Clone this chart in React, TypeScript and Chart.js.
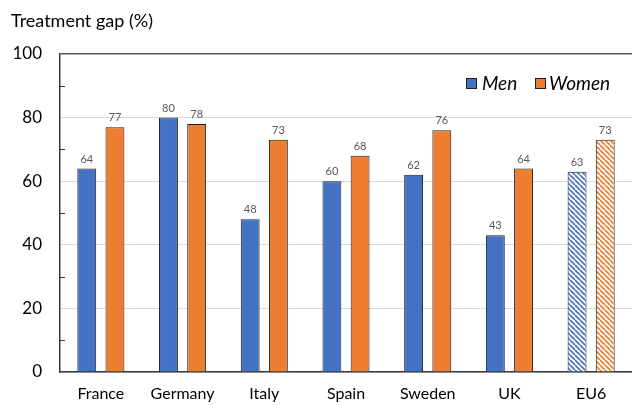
import React, { useEffect, useRef } from "react";
import { Chart, registerables } from "chart.js";

Chart.register(...registerables);

const categories = ["France", "Germany", "Italy", "Spain", "Sweden", "UK", "EU6"];
const menValues = [64, 80, 48, 60, 62, 43, 63];
const womenValues = [77, 78, 73, 68, 76, 64, 73];
const seriesNames = ["Men", "Women"];
const minorTickValues = [10, 30, 50, 70, 90];
const titleText = "Treatment gap (%)";
const hatchedCategory = "EU6";

const BLUE = "#4472C4";
const ORANGE = "#ED7D31";
const BORDER = "#1e1e1e";
const AXIS = "#3a3a3a";
const FONT = "Lato, 'Liberation Sans', sans-serif";

function makeHatch(color: string): CanvasPattern | string {
  const s = 5;
  const c = document.createElement("canvas");
  c.width = s;
  c.height = s;
  const ctx = c.getContext("2d");
  if (!ctx) return color;
  ctx.fillStyle = "#ffffff";
  ctx.fillRect(0, 0, s, s);
  ctx.strokeStyle = color;
  ctx.lineWidth = 1.7;
  for (const k of [-s, 0, s]) {
    ctx.beginPath();
    ctx.moveTo(k, 0);
    ctx.lineTo(k + s, s);
    ctx.stroke();
  }
  const p = ctx.createPattern(c, "repeat");
  return p || color;
}

export default function App() {
  const ref = useRef<HTMLCanvasElement | null>(null);

  useEffect(() => {
    if (!ref.current) return;
    const menHatch = makeHatch(BLUE);
    const womenHatch = makeHatch(ORANGE);

    const extras = {
      id: "extras",
      afterDraw(chart: any) {
        const ctx = chart.ctx as CanvasRenderingContext2D;
        const area = chart.chartArea;
        const y = chart.scales.y;
        ctx.save();
        // title
        ctx.fillStyle = "#000";
        ctx.font = `18px ${FONT}`;
        ctx.textAlign = "left";
        ctx.textBaseline = "middle";
        ctx.fillText(titleText, 11, 21);
        // minor ticks
        ctx.strokeStyle = AXIS;
        ctx.lineWidth = 1;
        for (const v of minorTickValues) {
          const py = Math.round(y.getPixelForValue(v)) + 0.5;
          ctx.beginPath();
          ctx.moveTo(area.left, py);
          ctx.lineTo(area.left + 5, py);
          ctx.stroke();
        }
        // legend
        const items = [
          { label: seriesNames[0], color: BLUE, box: 466, text: 482 },
          { label: seriesNames[1], color: ORANGE, box: 535, text: 549 },
        ];
        ctx.font = `italic 19px ${FONT}`;
        ctx.textBaseline = "middle";
        for (const it of items) {
          ctx.fillStyle = it.color;
          ctx.fillRect(it.box, 78, 11, 11);
          ctx.strokeStyle = BORDER;
          ctx.lineWidth = 1;
          ctx.strokeRect(it.box + 0.5, 78.5, 10, 10);
          ctx.fillStyle = "#000";
          ctx.fillText(it.label, it.text, 84);
        }
        ctx.restore();
      },
      afterDatasetsDraw(chart: any) {
        const ctx = chart.ctx as CanvasRenderingContext2D;
        ctx.save();
        ctx.fillStyle = "#595959";
        ctx.font = `11px ${FONT}`;
        ctx.textAlign = "center";
        ctx.textBaseline = "bottom";
        chart.data.datasets.forEach((ds: any, di: number) => {
          const meta = chart.getDatasetMeta(di);
          meta.data.forEach((el: any, i: number) => {
            ctx.fillText(String(ds.data[i]), el.x, el.y - 4);
          });
        });
        ctx.restore();
      },
    };

    const chart = new Chart(ref.current, {
      type: "bar",
      data: {
        labels: categories,
        datasets: [
          {
            label: seriesNames[0],
            data: menValues,
            backgroundColor: categories.map((c) => (c === hatchedCategory ? menHatch : BLUE)) as any,
            borderColor: BORDER,
            borderWidth: 1,
            categoryPercentage: 0.69,
            barPercentage: 0.67,
          },
          {
            label: seriesNames[1],
            data: womenValues,
            backgroundColor: categories.map((c) => (c === hatchedCategory ? womenHatch : ORANGE)) as any,
            borderColor: BORDER,
            borderWidth: 1,
            categoryPercentage: 0.69,
            barPercentage: 0.67,
          },
        ],
      },
      options: {
        animation: false,
        responsive: false,
        maintainAspectRatio: false,
        layout: { padding: { top: 54, right: 0, left: 0, bottom: 0 } },
        plugins: {
          legend: { display: false },
          title: { display: false },
          tooltip: { enabled: false },
        },
        scales: {
          x: {
            grid: { display: false, drawTicks: false },
            border: { display: true, color: AXIS, width: 1.5 },
            ticks: {
              color: "#000",
              font: { family: FONT, size: 16 },
              padding: 12,
              maxRotation: 0,
              autoSkip: false,
            },
            afterFit(scale: any) {
              scale.height = 33;
            },
          },
          y: {
            min: 0,
            max: 100,
            ticks: {
              stepSize: 20,
              color: "#000",
              font: { family: FONT, size: 17 },
              padding: 18,
            },
            grid: {
              drawTicks: false,
              color: (c: any) => (c.tick && c.tick.value === 100 ? "#595959" : "#d9d9d9"),
              lineWidth: (c: any) => (c.tick && c.tick.value === 100 ? 1.5 : 1),
            },
            border: { display: true, color: AXIS, width: 1.5 },
            afterFit(scale: any) {
              scale.width = 60;
            },
          },
        },
      },
      plugins: [extras],
    });
    return () => chart.destroy();
  }, []);

  return (
    <div style={{ position: "absolute", left: 0, top: 0, width: 632, height: 405, background: "#fff" }}>
      <canvas ref={ref} width={632} height={405} style={{ display: "block" }} />
    </div>
  );
}
